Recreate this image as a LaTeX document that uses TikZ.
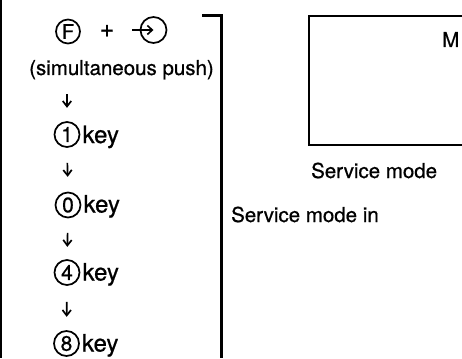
\documentclass[tikz,border=0pt]{standalone}
\usepackage{fontspec}
\setmainfont{TeX Gyre Heros}[FakeBold=0.7]
\usetikzlibrary{arrows.meta}

\tikzset{
  keycap/.style={circle, draw, line width=1.7pt, minimum size=25pt, inner sep=0pt,
                 font=\fontsize{21}{21}\selectfont},
  caption/.style={font=\fontsize{20.5}{22}\selectfont, inner sep=0pt},
  keyword/.style={caption, anchor=base west},
  keylabel/.style={keyword, font=\fontsize{24}{26}\selectfont},
  stepline/.style={-{Straight Barb[length=5.5pt,width=8.5pt]}, line width=1.7pt},
  frame/.style={line width=2.4pt}
}

\begin{document}
\begin{tikzpicture}[x=1pt, y=-1pt]
  \useasboundingbox (0,0) rectangle (462,358);

  % frame lines
  \draw[frame] (1,0) -- (1,358);
  \draw[frame] (202,15.7) -- (221.5,15.7) -- (221.5,358);
  \draw[frame] (463,16) -- (309,16) -- (309,145) -- (463,145);

  % key sequence
  \node[keycap, minimum size=24pt, font=\fontsize{20}{20}\selectfont] (keyF) at (68,31.5) {F};
  \node[caption, font=\fontsize{25}{25}\selectfont] (plus) at (107,31) {+};
  \node[keycap, minimum size=26pt] (keyArrow) at (153.5,30) {};
  \coordinate (arrowTail) at (132,30);
  \draw[-{Straight Barb[length=5pt,width=9pt]}, line width=1.6pt] (arrowTail) -- (keyArrow.center);

  \node[caption, anchor=base] (push) at (121.5,75) {(simultaneous push)};

  \node[keycap] (key1) at (67,134.5) {1};
  \node[keylabel] (lbl1) at ([xshift=2pt]key1.east |- 0,143) {key};
  \node[keycap] (key0) at (68,205) {0};
  \node[keylabel] (lbl0) at ([xshift=2pt]key0.east |- 0,212.5) {key};
  \node[keycap] (key4) at (67,272.5) {4};
  \node[keylabel] (lbl4) at ([xshift=2pt]key4.east |- 0,280.5) {key};
  \node[keycap] (key8) at (66.5,343.5) {8};
  \node[keylabel] (lbl8) at ([xshift=2pt]key8.east |- 0,351.5) {key};

  \draw[stepline, shorten <=14.5pt, shorten >=13.3pt] (push.south -| key1.center) -- (key1.north);
  \draw[stepline, shorten <=15pt, shorten >=14.8pt] (key1.south) -- (key0.north);
  \draw[stepline, shorten <=14.5pt, shorten >=12.3pt] (key0.south) -- (key4.north);
  \draw[stepline, shorten <=16pt, shorten >=13.3pt] (key4.south) -- (key8.north);

  % display panel and captions
  \node[keyword] (modeM) at (442,47) {M};
  \node[keyword] (panelCaption) at (311,178) {Service mode};
  \node[keyword] (modeIn) at (231,222) {Service mode in};
\end{tikzpicture}
\end{document}
